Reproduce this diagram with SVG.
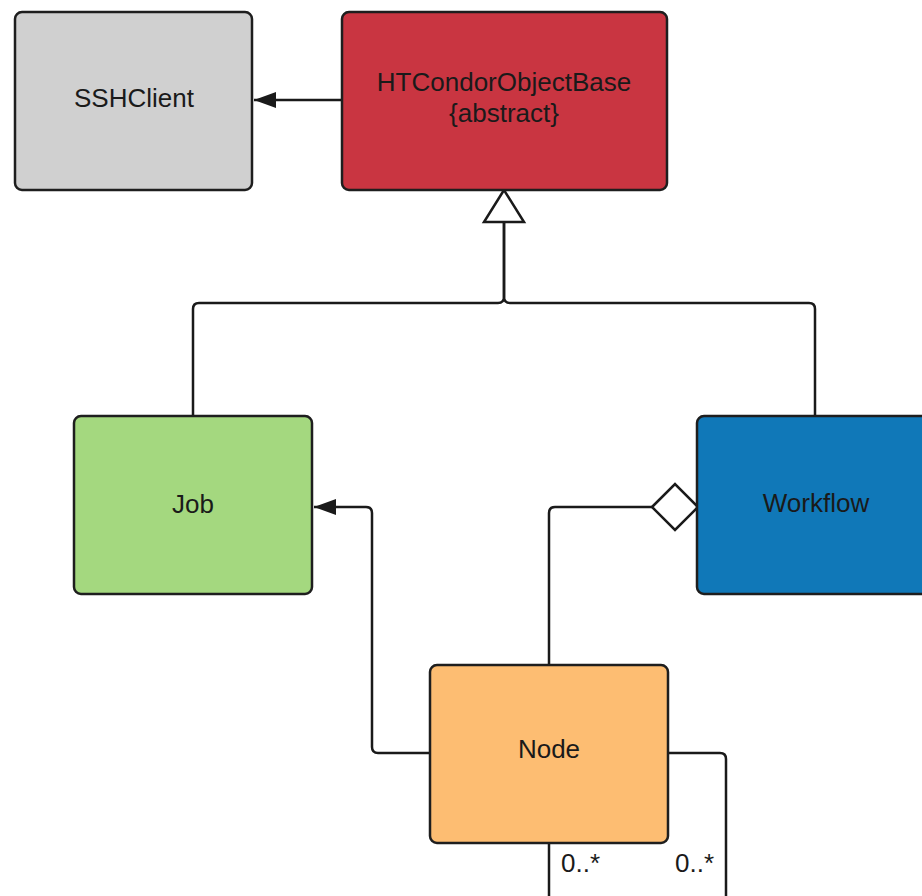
<svg xmlns="http://www.w3.org/2000/svg" width="922" height="896" viewBox="0 0 922 896">
<style>
.box{stroke:#1e1e1e;stroke-width:2.5}
.lbl{font-family:"Liberation Sans",Arial,sans-serif;font-size:26px;fill:#1a1a1a;text-anchor:middle}
.card{font-family:"Liberation Sans",Arial,sans-serif;font-size:26px;fill:#1a1a1a}
.edge{fill:none;stroke:#1a1a1a;stroke-width:2.5}
</style>
<defs>
<marker id="filled" markerWidth="24" markerHeight="18" refX="22" refY="8" orient="auto" markerUnits="userSpaceOnUse">
<path d="M0,0 L22,8 L0,16 Z" fill="#1a1a1a"/>
</marker>
</defs>
<rect width="922" height="896" fill="#ffffff"/>
<g id="connectors">
<path class="edge" d="M342,100 H254" marker-end="url(#filled)"/>
<path class="edge" d="M193,416 V309 Q193,303 199,303 H498 Q504,303 504,297 V222"/>
<path class="edge" d="M815,416 V309 Q815,303 809,303 H510 Q504,303 504,297 V222"/>
<polygon points="504,190 484,222 524,222" fill="#ffffff" stroke="#1a1a1a" stroke-width="2.5" stroke-linejoin="miter"/>
<path class="edge" d="M430,753 H378 Q372,753 372,747 V513 Q372,507 366,507 H314" marker-end="url(#filled)"/>
<path class="edge" d="M549,665 V513 Q549,507 555,507 H652"/>
<polygon points="652,507 675,484 698,507 675,530" fill="#ffffff" stroke="#1a1a1a" stroke-width="2.5"/>
<path class="edge" d="M549,843 V900"/>
<path class="edge" d="M668,753 H720 Q726,753 726,759 V900"/>
<text class="card" x="561" y="872">0..*</text>
<text class="card" x="675" y="872">0..*</text>
</g>
<g id="SSHClient">
<rect class="box" x="15" y="12" width="237" height="178" rx="7" fill="#d0d0d0"/>
<text class="lbl" x="134" y="107">SSHClient</text>
</g>
<g id="HTCondorObjectBase">
<rect class="box" x="342" y="12" width="325" height="178" rx="7" fill="#c93541"/>
<text class="lbl" x="504" y="91">HTCondorObjectBase</text>
<text class="lbl" x="504" y="122">{abstract}</text>
</g>
<g id="Job">
<rect class="box" x="74" y="416" width="238" height="178" rx="7" fill="#a4d87f"/>
<text class="lbl" x="193" y="513">Job</text>
</g>
<g id="Workflow">
<rect class="box" x="697" y="416" width="240" height="178" rx="7" fill="#1078b8"/>
<text class="lbl" x="816" y="512">Workflow</text>
</g>
<g id="Node">
<rect class="box" x="430" y="665" width="238" height="178" rx="7" fill="#fdbd72"/>
<text class="lbl" x="549" y="758">Node</text>
</g>
</svg>
